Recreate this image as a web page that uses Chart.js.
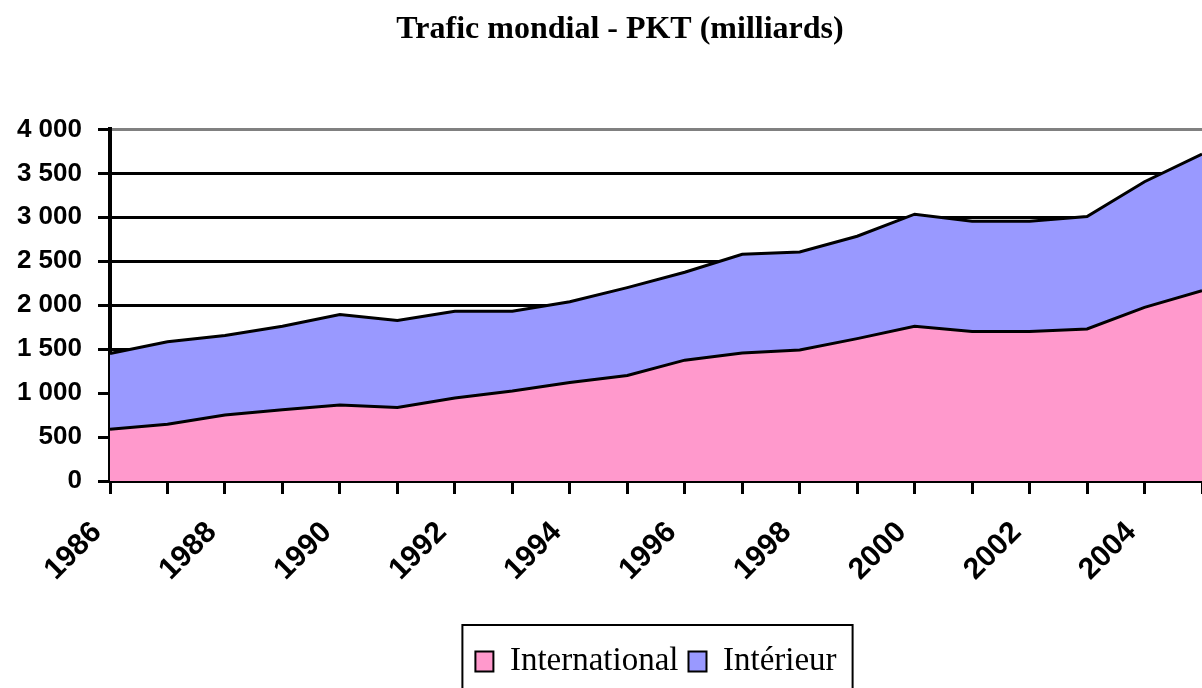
<!DOCTYPE html>
<html>
<head>
<meta charset="utf-8">
<title>Trafic mondial - PKT</title>
<script src="https://cdn.jsdelivr.net/npm/chart.js@4/dist/chart.umd.min.js"></script>
<style>
  html, body { margin: 0; padding: 0; background: #fff; overflow: hidden; }
  #wrap { width: 1202px; height: 688px; }
</style>
</head>
<body>
<div id="wrap"><canvas id="pktChart" width="1202" height="688"></canvas></div>
<script>
// === DATA (milliards de PKT) ===
var YEARS         = ['1986', '1987', '1988', '1989', '1990', '1991', '1992', '1993', '1994', '1995',
                     '1996', '1997', '1998', '1999', '2000', '2001', '2002', '2003', '2004', '2005'];
var INTERNATIONAL = [590, 645, 750, 810, 865, 835, 945, 1025, 1120, 1200,
                     1375, 1455, 1490, 1620, 1760, 1700, 1700, 1730, 1975, 2165];
var INTERIEUR     = [860, 940, 905, 950, 1030, 990, 985, 905, 920, 1000,
                     1000, 1125, 1115, 1165, 1275, 1255, 1255, 1280, 1430, 1555];
var Y_TICKS       = [0, 500, 1000, 1500, 2000, 2500, 3000, 3500, 4000];

(function () {
  'use strict';

  var SERIF = 'Liberation Serif';
  var SANS  = 'Liberation Sans';

  function spaced(v) {
    return String(v).replace(/\B(?=(\d{3})+(?!\d))/g, ' ');
  }

  // the original title sits a bit right of the page centre
  var titleShift = {
    id: 'titleShift',
    afterLayout: function (chart) {
      if (chart.titleBlock) chart.titleBlock.left = 38;
    }
  };

  // box drawn around the legend, like the spreadsheet original
  var legendFrame = {
    id: 'legendFrame',
    afterDraw: function (chart) {
      var lg = chart.legend;
      if (!lg || !lg.legendHitBoxes || !lg.legendHitBoxes.length) return;
      var boxes = lg.legendHitBoxes;
      var left  = boxes[0].left;
      var last  = boxes[boxes.length - 1];
      var right = last.left + last.width;
      var ctx = chart.ctx;
      ctx.save();
      ctx.strokeStyle = '#000';
      ctx.lineWidth = 2;
      ctx.strokeRect(left - 13, boxes[0].top - 20, (right - left) + 29, 120);
      ctx.restore();
    }
  };

  var ctx = document.getElementById('pktChart').getContext('2d');
  new Chart(ctx, {
    type: 'line',
    data: {
      labels: YEARS,
      datasets: [{
        label:           'International',
        data:            INTERNATIONAL,
        backgroundColor: '#FF99CC',
        borderColor:     '#000',
        borderWidth:     3,
        pointRadius:     0,
        tension:         0,
        fill:            'origin',
      }, {
        label:           'Intérieur',
        data:            INTERIEUR,
        backgroundColor: '#9999FF',
        borderColor:     '#000',
        borderWidth:     3,
        pointRadius:     0,
        tension:         0,
        fill:            '-1',
      }],
    },
    options: {
      responsive: false,
      animation:  false,
      layout: { padding: 0 },
      plugins: {
        title: {
          display: true,
          text:    'Trafic mondial - PKT (milliards)',
          color:   '#000',
          font:    { family: SERIF, size: 32, weight: 'bold' },
          padding: { top: 11, bottom: 80 },
        },
        legend: {
          position: 'bottom',
          fullSize: false,
          labels: {
            color:     '#000',
            font:      { family: SERIF, size: 33 },
            boxWidth:  18,
            boxHeight: 20,
            padding:   10,
            generateLabels: function (chart) {
              var items = Chart.defaults.plugins.legend.labels.generateLabels(chart);
              items.forEach(function (it) { it.lineWidth = 2; });
              return items;
            },
          },
        },
        tooltip: { enabled: false },
      },
      scales: {
        x: {
          z: 1,
          offset: false,
          grid:   { drawOnChartArea: false, drawTicks: true, tickLength: 13, tickWidth: 3, tickColor: '#000' },
          border: { color: '#000', width: 4 },
          ticks: {
            autoSkip:    false,
            minRotation: 45,
            maxRotation: 45,
            padding:     21,
            labelOffset: -13,
            color:       '#000',
            font:        { family: SANS, size: 30, weight: 'bold' },
            callback:    function (v, i) { return i % 2 === 0 ? YEARS[i] : ''; },
          },
          afterFit: function (scale) {
            scale.height = 154;
            scale.paddingLeft = 0;
            scale.paddingRight = 0;
          },
        },
        y: {
          stacked: true,
          min: 0,
          max: 4000,
          afterBuildTicks: function (scale) {
            scale.ticks = Y_TICKS.map(function (v) { return { value: v }; });
          },
          grid: {
            color:      function (c) { return c.tick && c.tick.value === 4000 ? '#808080' : '#000'; },
            lineWidth:  3,
            tickLength: 12,
            tickColor:  '#000',
            tickWidth:  3,
          },
          border: { color: '#000', width: 4 },
          ticks: {
            padding:  16,
            color:    '#000',
            font:     { family: SANS, size: 26, weight: 'bold' },
            callback: function (v) { return spaced(v); },
          },
          afterFit: function (scale) { scale.width = 110; },
        },
      },
    },
    plugins: [titleShift, legendFrame],
  });
}());
</script>
</body>
</html>
